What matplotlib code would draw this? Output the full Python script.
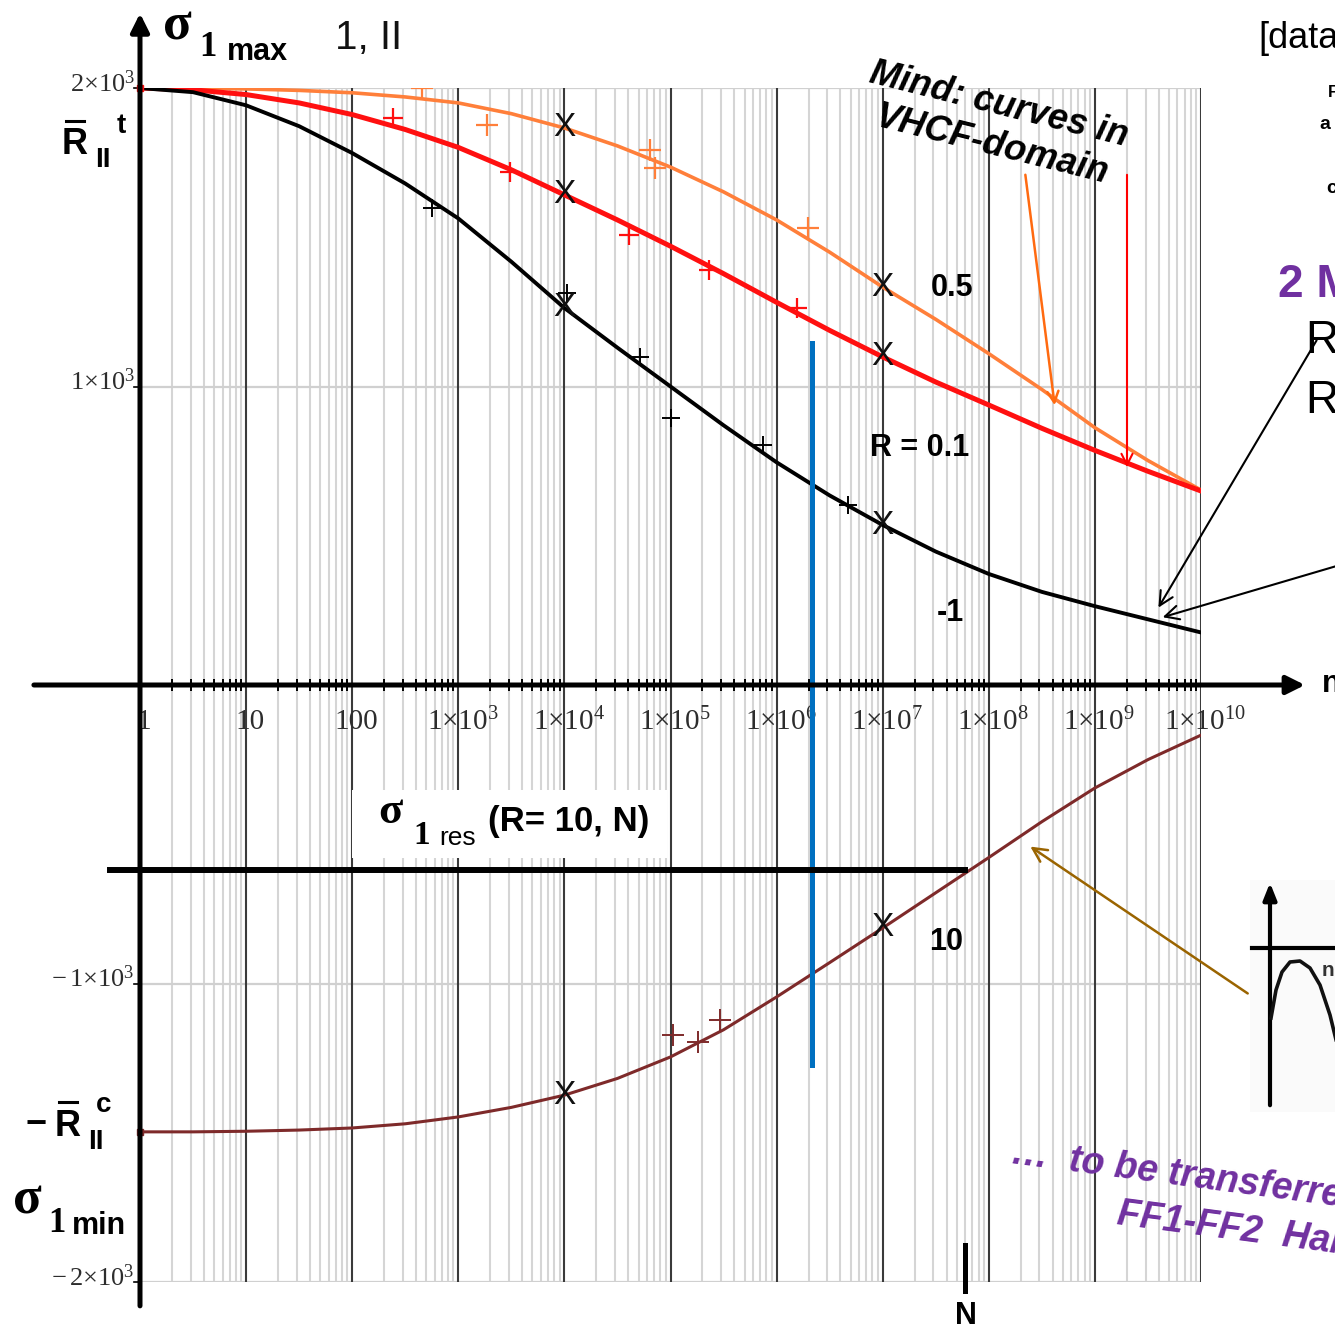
import numpy as np
import matplotlib
matplotlib.use("Agg")
import matplotlib.pyplot as plt
from matplotlib.lines import Line2D
from matplotlib.patches import Rectangle, FancyArrowPatch

plt.rcParams["font.family"] = ["Liberation Sans", "DejaVu Sans"]
plt.rcParams["mathtext.fontset"] = "custom"
plt.rcParams["mathtext.rm"] = "Liberation Serif"
plt.rcParams["mathtext.it"] = "Liberation Serif:italic"
plt.rcParams["mathtext.bf"] = "Liberation Serif:bold"

# --- data (log10 of cycles, stress in MPa) ---
log_n = [0, 0.5, 1, 1.5, 2, 2.5, 3, 3.5, 4, 4.5, 5, 5.5, 6, 6.5, 7, 7.5, 8, 8.5, 9, 9.5, 10]
s_r05 = [2000, 1999, 1997, 1992, 1984, 1970, 1950, 1914, 1866, 1806, 1735, 1652, 1558, 1450,
         1333, 1225, 1110, 990, 862, 752, 653]
s_r01 = [2000, 1994, 1978, 1950, 1911, 1861, 1801, 1726, 1642, 1558, 1470, 1378, 1282, 1188,
         1099, 1015, 938, 860, 786, 716, 650]
s_rm1 = [2000, 1986, 1942, 1872, 1782, 1680, 1563, 1418, 1263, 1130, 1000, 870, 746, 635,
         536, 447, 372, 312, 264, 220, 176]
s_r10 = [-1497, -1497, -1495, -1491, -1484, -1470, -1447, -1415, -1374, -1318, -1246, -1155,
         -1045, -930, -814, -696, -578, -458, -345, -250, -168]

# test points (+)
p_r05_x = [2.66, 3.27, 4.81, 4.85, 6.30]
p_r05_y = [2000, 1876, 1792, 1732, 1531]
p_r01_x = [2.38, 3.49, 4.61, 5.36, 6.19]
p_r01_y = [1899, 1719, 1508, 1390, 1263]
p_rm1_x = [2.75, 4.02, 4.71, 5.00, 5.87, 6.67]
p_rm1_y = [1598, 1313, 1099, 894, 804, 603]
p_r10_x = [5.02, 5.26, 5.47]
p_r10_y = [-1173, -1196, -1122]

x_mark_logs = [4, 7]           # 'X' markers on every curve
n_blue = 6.333                 # log10 N of blue line
blue_lo, blue_hi = -1273, 1146
n_res = 7.78                   # log10 N of residual strength point
s_res = -620

tick_labels = ["1", "10", "100"] + [r"$1{\times}10^{%d}$" % k for k in range(3, 11)]
ytick_vals = [2000, 1000, -1000, -2000]
ytick_labels = [r"$2{\times}10^{3}$", r"$1{\times}10^{3}$", r"$-\,1{\times}10^{3}$", r"$-\,2{\times}10^{3}$"]

col_r05 = "#FF7F3A"
col_r01 = "#FF1010"
col_r10 = "#7E2A2A"
purple = "#7030A0"

W, H = 1335, 1330
fig = plt.figure(figsize=(W / 100, H / 100), dpi=100)


def fx(px):
    return px / W


def fy(py):
    return 1 - py / H


ax = fig.add_axes([fx(140), fy(1282), (1201 - 140) / W, (1282 - 88) / H])
ax.set_xlim(0, 10)
ax.set_ylim(-2000, 2000)
ax.axis("off")

# grid
for d in range(10):
    for m in range(2, 10):
        ax.axvline(d + np.log10(m), color="#d5d5d5", lw=1.5, zorder=1)
for d in range(1, 11):
    ax.axvline(d, color="#3a3a3a", lw=1.5, zorder=1.5)
for yv in ytick_vals:
    ax.axhline(yv, color="#d0d0d0", lw=1.6, zorder=1)

# minor ticks along the N axis
minor_pos = [d + np.log10(m) for d in range(10) for m in range(2, 10)]
ax.plot(minor_pos, [0] * len(minor_pos), ls="none", marker="|", ms=9, mew=1.4,
        color="k", zorder=4, clip_on=False)

# axes with arrows
ax.annotate("", xy=(10.98, 0), xytext=(-1.0, 0), xycoords="data",
            arrowprops=dict(arrowstyle="-|>,head_length=1.1,head_width=0.55", lw=3.6,
                            color="k", shrinkA=0, shrinkB=0), annotation_clip=False, zorder=5)
ax.annotate("", xy=(0, 2250), xytext=(0, -2080), xycoords="data",
            arrowprops=dict(arrowstyle="-|>,head_length=1.1,head_width=0.55", lw=3.6,
                            color="k", shrinkA=0, shrinkB=0), annotation_clip=False, zorder=5)

# S-N curves
ax.plot(log_n, s_r05, color=col_r05, lw=2.6, zorder=3)
ax.plot(log_n, s_r01, color=col_r01, lw=3.6, zorder=3)
ax.plot(log_n, s_rm1, color="k", lw=2.8, zorder=3)
ax.plot(log_n, s_r10, color=col_r10, lw=2.2, zorder=3)
ax.plot([0], [s_r01[0]], ls="none", marker="s", ms=5, color=col_r01, zorder=3, clip_on=False)
ax.plot([0], [s_r10[0]], ls="none", marker="s", ms=5, color=col_r10, zorder=3, clip_on=False)

ax.plot(p_r05_x, p_r05_y, ls="none", marker="+", ms=16, mew=1.6, color=col_r05, zorder=3)
ax.plot(p_r01_x, p_r01_y, ls="none", marker="+", ms=14, mew=1.6, color=col_r01, zorder=3)
ax.plot(p_rm1_x, p_rm1_y, ls="none", marker="+", ms=13, mew=1.4, color="k", zorder=3)
ax.plot(p_r10_x, p_r10_y, ls="none", marker="+", ms=16, mew=1.4, color=col_r10, zorder=3)

for curve in (s_r05, s_r01, s_rm1, s_r10):
    for lg in x_mark_logs:
        ax.text(lg, curve[log_n.index(lg)], "X", fontsize=24, ha="center", va="center",
                color="#111111", zorder=6)

# blue line and residual strength line
ax.plot([n_blue, n_blue], [blue_lo, blue_hi], color="#0070C0", lw=3.6, zorder=4)
ax.plot([-0.28, n_res], [s_res, s_res], color="k", lw=4.3, zorder=4, clip_on=False)
ax.plot([n_res, n_res], [-1875, -2030], color="k", lw=3.6, zorder=4, clip_on=False)
ax.text(n_res, -2115, "N", fontsize=22, fontweight="bold", ha="center", va="center")

# tick labels
for d, lab in enumerate(tick_labels):
    ax.text(d + 0.04, -125, lab, fontsize=21, ha="center", va="center", color="#2d2d2d",
            family="Liberation Serif")
for yv, lab in zip(ytick_vals, ytick_labels):
    ax.text(-0.05, yv + 15, lab, fontsize=19, ha="right", va="center", color="#2d2d2d")
    ax.plot([-0.06, 0], [yv, yv], color="k", lw=1.2, clip_on=False)

# curve labels
ax.text(7.65, 1330, "0.5", fontsize=22, fontweight="bold", ha="center", va="center")
ax.text(7.35, 795, "R = 0.1", fontsize=22, fontweight="bold", ha="center", va="center")
ax.text(7.64, 240, "-1", fontsize=22, fontweight="bold", ha="center", va="center")
ax.text(7.6, -860, "10", fontsize=22, fontweight="bold", ha="center", va="center")

# residual strength label box
fig.add_artist(Rectangle((fx(352), fy(858)), (667 - 352) / W, (858 - 790) / H,
                         transform=fig.transFigure, facecolor="white", edgecolor="none", zorder=7))
fig.text(fx(390), fy(812), "σ", fontsize=32, fontweight="bold", family="Liberation Serif",
         ha="center", va="center", zorder=8)
fig.text(fx(422), fy(836), "1", fontsize=24, fontweight="bold", family="Liberation Serif",
         ha="center", va="center", zorder=8)
fig.text(fx(458), fy(838), "res", fontsize=19, ha="center", va="center", zorder=8)
fig.text(fx(488), fy(822), "(R= 10, N)", fontsize=25, fontweight="bold", ha="left",
         va="center", zorder=8)

# axis titles
fig.text(fx(177), fy(26), "σ", fontsize=38, fontweight="bold", family="Liberation Serif",
         ha="center", va="center")
fig.text(fx(208), fy(48), "1", fontsize=25, fontweight="bold", family="Liberation Serif",
         ha="center", va="center")
fig.text(fx(257), fy(52), "max", fontsize=22, fontweight="bold", ha="center", va="center")
fig.text(fx(369), fy(38), "1, II", fontsize=29, ha="center", va="center", color="#111111")

fig.text(fx(75), fy(145), "R", fontsize=26, fontweight="bold", ha="center", va="center")
fig.add_artist(Line2D([fx(66), fx(84)], [fy(121), fy(121)], color="k", lw=2.2))
fig.text(fx(103), fy(160), "II", fontsize=20, fontweight="bold", ha="center", va="center")
fig.text(fx(121), fy(126), "t", fontsize=20, fontweight="bold", ha="center", va="center")

fig.text(fx(36), fy(1125), "−", fontsize=26, fontweight="bold", ha="center", va="center")
fig.text(fx(68), fy(1126), "R", fontsize=26, fontweight="bold", ha="center", va="center")
fig.add_artist(Line2D([fx(59), fx(77)], [fy(1102), fy(1102)], color="k", lw=2.2))
fig.text(fx(96), fy(1142), "II", fontsize=20, fontweight="bold", ha="center", va="center")
fig.text(fx(104), fy(1105), "c", fontsize=20, fontweight="bold", ha="center", va="center")

fig.text(fx(27), fy(1200), "σ", fontsize=38, fontweight="bold", family="Liberation Serif",
         ha="center", va="center")
fig.text(fx(57), fy(1224), "1", fontsize=25, fontweight="bold", family="Liberation Serif",
         ha="center", va="center")
fig.text(fx(99), fy(1226), "min", fontsize=22, fontweight="bold", ha="center", va="center")

fig.text(fx(1322), fy(684), "n", fontsize=22, fontweight="bold", ha="left", va="center")

# VHCF note with arrows
fig.text(fx(868), fy(82), "Mind: curves in", fontsize=26, fontweight="bold", style="italic",
         rotation=-14, rotation_mode="anchor", ha="left", va="baseline")
fig.text(fx(874), fy(126), "VHCF-domain", fontsize=26, fontweight="bold", style="italic",
         rotation=-14, rotation_mode="anchor", ha="left", va="baseline")
fig.add_artist(FancyArrowPatch((fx(1025), fy(172)), (fx(1055), fy(408)), transform=fig.transFigure,
                               arrowstyle="->,head_length=8,head_width=4", lw=1.8, color="#FF6A10"))
fig.add_artist(FancyArrowPatch((fx(1127), fy(172)), (fx(1127), fy(470)), transform=fig.transFigure,
                               arrowstyle="->,head_length=8,head_width=4", lw=1.5, color="#FF0000"))

# right-hand panel fragments
fig.text(fx(1258), fy(48), "[data", fontsize=26, ha="left", va="baseline")
fig.text(fx(1328), fy(97), "F", fontsize=12, fontweight="bold", ha="left", va="baseline")
fig.text(fx(1319), fy(129), "a", fontsize=14, fontweight="bold", ha="left", va="baseline")
fig.text(fx(1326), fy(193), "c", fontsize=14, fontweight="bold", ha="left", va="baseline")
fig.text(fx(1278), fy(297), "2 M", fontsize=33, fontweight="bold", color=purple,
         ha="left", va="baseline")
fig.text(fx(1305), fy(353), "R", fontsize=33, ha="left", va="baseline")
fig.text(fx(1305), fy(413), "R", fontsize=33, ha="left", va="baseline")
fig.add_artist(FancyArrowPatch((fx(1318), fy(338)), (fx(1157), fy(610)), transform=fig.transFigure,
                               arrowstyle="->,head_length=10,head_width=5", lw=1.5, color="k"))
fig.add_artist(FancyArrowPatch((fx(1340), fy(565)), (fx(1160), fy(618)), transform=fig.transFigure,
                               arrowstyle="->,head_length=10,head_width=5", lw=1.5, color="k"))

# load cycle icon
fig.add_artist(Rectangle((fx(1250), fy(1112)), 90 / W, 232 / H, transform=fig.transFigure,
                         facecolor="#fafafa", edgecolor="none", zorder=0))
fig.add_artist(FancyArrowPatch((fx(1270), fy(1108)), (fx(1270), fy(880)), transform=fig.transFigure,
                               arrowstyle="-|>,head_length=10,head_width=4", lw=3, color="k"))
fig.add_artist(Line2D([fx(1252), fx(1340)], [fy(948), fy(948)], color="k", lw=3))
icon_x = [1271, 1276, 1282, 1290, 1300, 1310, 1320, 1330, 1338]
icon_y = [1018, 990, 972, 962, 961, 968, 985, 1015, 1048]
fig.add_artist(Line2D([fx(v) for v in icon_x], [fy(v) for v in icon_y], color="#111111", lw=2.6))
fig.text(fx(1322), fy(970), "n", fontsize=15, fontweight="bold", color="#333333",
         ha="left", va="center")

fig.add_artist(FancyArrowPatch((fx(1250), fy(995)), (fx(1028), fy(845)), transform=fig.transFigure,
                               arrowstyle="->,head_length=10,head_width=5", lw=1.8, color="#9A6400"))

fig.text(fx(1010), fy(1163), "…  to be transferred", fontsize=27, fontweight="bold",
         style="italic", color=purple, rotation=-7.5, rotation_mode="anchor",
         ha="left", va="baseline")
fig.text(fx(1116), fy(1224), "FF1-FF2  Haigh", fontsize=27, fontweight="bold",
         style="italic", color=purple, rotation=-7.5, rotation_mode="anchor",
         ha="left", va="baseline")

fig.savefig("out.png", dpi=100, facecolor="white")
